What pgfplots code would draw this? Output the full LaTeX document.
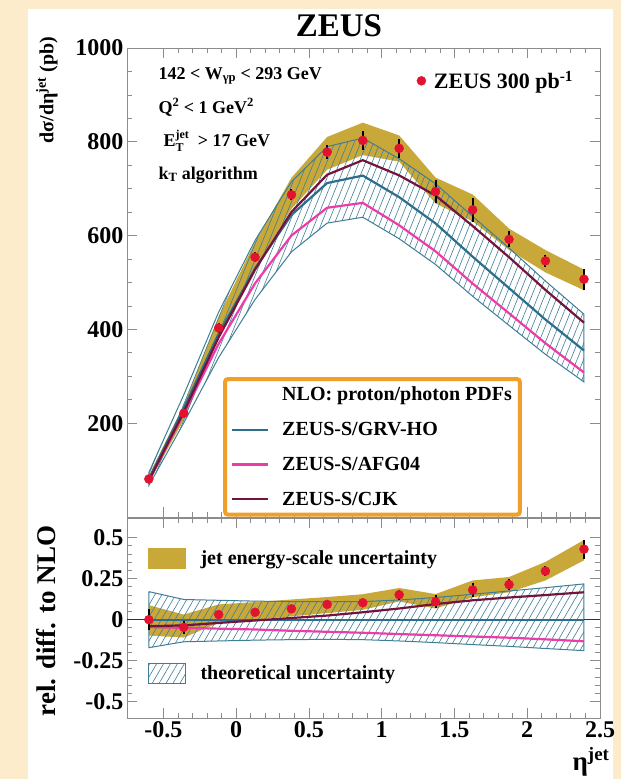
\documentclass[border=0pt]{standalone}
\usepackage{fontspec}
\setmainfont{Liberation Serif}
\usepackage{pgfplots}
\pgfplotsset{compat=1.18}
\usetikzlibrary{patterns.meta}
\definecolor{bgc}{RGB}{252,236,204}
\definecolor{goldC}{RGB}{201,168,58}
\definecolor{hatchC}{RGB}{62,126,150}
\definecolor{grvC}{RGB}{45,110,140}
\definecolor{afgC}{RGB}{236,60,170}
\definecolor{cjkC}{RGB}{115,20,60}
\definecolor{zred}{RGB}{226,18,48}
\definecolor{legC}{RGB}{240,160,40}
\definecolor{frameC}{RGB}{140,140,140}
\newcommand{\fs}[1]{\fontsize{#1}{#1}\selectfont\bfseries}
\begin{document}
\begin{tikzpicture}
\path[use as bounding box] (0pt,0pt) rectangle (621pt,-779pt);
\fill[bgc] (0pt,0pt) rectangle (621pt,-779pt);
\fill[white] (28pt,-9pt) rectangle (613pt,-779pt);
\node[font=\fs{33}] at (339pt,-26pt) {ZEUS};

% ---------------- upper panel ----------------
\begin{axis}[
  at={(127pt,-48pt)}, anchor=north west,
  scale only axis, width=473pt, height=469pt,
  xmin=-0.75, xmax=2.5, ymin=0, ymax=1000,
  xtick={-0.5,0,0.5,1,1.5,2,2.5}, xticklabels={},
  ytick={200,400,600,800,1000}, yticklabels={200,400,600,800,1000},
  minor x tick num=4, minor y tick num=3,
  axis line style={draw=frameC, line width=0.9pt},
  every tick/.style={frameC, line width=0.8pt},
  major tick length=10pt, minor tick length=5pt,
  yticklabel style={font=\fs{24}},
  legend image code/.code={\draw[#1] (0pt,0pt) -- (36pt,0pt);},
  legend cell align=left,
  legend style={at={(rel axis cs:0.203,0.2985)}, anchor=north west,
    draw=legC, line width=4pt, rounded corners=3pt, fill=white,
    font=\fs{20}, inner xsep=6pt, inner ysep=6pt, row sep=16pt,
    /tikz/every odd column/.append style={column sep=11pt}},
]
% jet energy-scale uncertainty band
\addplot[fill=goldC, draw=none, forget plot] coordinates {
(-0.6,88.1) (-0.36,239.2) (-0.12,427.4) (0.13,586.7) (0.38,723.2) (0.625,810.3) (0.87,840.8)
(1.12,813.6) (1.37,723.7) (1.625,687.6) (1.875,614.9) (2.125,569.2) (2.39,527.5)
(2.39,483.5) (2.125,521.6) (1.875,569.5) (1.625,630.5) (1.37,668.6) (1.12,757.7) (0.87,771.7)
(0.625,740.5) (0.38,656.9) (0.13,530) (-0.12,383.2) (-0.36,206.7) (-0.6,73.1) (-0.6,88.1)};
% theoretical uncertainty band
\addplot[pattern={Lines[angle=68,distance=6pt,line width=0.6pt]}, pattern color=hatchC,
  draw=hatchC, line width=1pt, forget plot] coordinates {
(-0.6,94.9) (-0.36,260.5) (-0.12,437.1) (0.13,589.9) (0.38,714.8) (0.625,789.6) (0.87,808.1)
(1.12,763.8) (1.37,710.5) (1.625,641.0) (1.875,573.4) (2.125,503.1) (2.39,432.4)
(2.39,287.9) (2.125,346.9) (1.875,408.5) (1.625,470.6) (1.37,538.4) (1.12,593.3) (0.87,639.2)
(0.625,626.6) (0.38,565.4) (0.13,463.8) (-0.12,340.2) (-0.36,200.7) (-0.6,67.1) (-0.6,94.9)};
\addlegendimage{empty legend}
\addlegendentry{NLO: proton/photon PDFs}
\addplot[grvC, line width=2.2pt] coordinates {
(-0.6,81) (-0.36,232) (-0.12,391) (0.13,530) (0.38,644) (0.625,712) (0.87,728)
(1.12,682) (1.37,626) (1.625,555) (1.875,488) (2.125,421) (2.39,355)};
\addlegendentry{ZEUS-S/GRV-HO}
\addplot[afgC, line width=2.2pt] coordinates {
(-0.6,77.4) (-0.36,220.4) (-0.12,369.5) (0.13,498.2) (0.38,600.2) (0.625,659.3) (0.87,669.8)
(1.12,622.0) (1.37,566.5) (1.625,497.8) (1.875,434.3) (2.125,370.5) (2.39,308.1)};
\addlegendentry{ZEUS-S/AFG04}
\addplot[cjkC, line width=2.2pt] coordinates {
(-0.6,77.8) (-0.36,223.9) (-0.12,383.2) (0.13,527.4) (0.38,650.4) (0.625,729.8) (0.87,760.8)
(1.12,728.4) (1.37,685.5) (1.625,620.5) (1.875,553.9) (2.125,484.2) (2.39,414.3)};
\addlegendentry{ZEUS-S/CJK}
% data
\addplot[only marks, mark=*, mark size=4.5pt, color=zred, forget plot,
  error bars/.cd, y dir=both, y explicit,
  error bar style={black, line width=2pt}, error mark=none]
  table[x=x, y=y, y error=e] {
x y e
-0.6 81 6
-0.36 221 8
-0.12 403 10
0.13 554 10
0.38 687 12
0.625 778 15
0.87 803 20
1.12 786 20
1.37 694 25
1.625 655 25
1.875 592 17
2.125 546 13
2.39 507 22
};
\end{axis}

% legend for data (overlay)
\begin{axis}[
  at={(127pt,-48pt)}, anchor=north west,
  scale only axis, width=473pt, height=469pt,
  xmin=0, xmax=1, ymin=0, ymax=1, hide axis,
  legend style={at={(rel axis cs:0.6125,0.93)}, anchor=west, draw=none, fill=none,
    font=\fs{22}, inner sep=0pt,
    /tikz/every odd column/.append style={column sep=6pt}},
]
\addlegendimage{only marks, mark=*, mark size=4.5pt, color=zred}
\addlegendentry{ZEUS 300 pb\textsuperscript{-1}}
\end{axis}

% ---------------- lower panel ----------------
\begin{axis}[
  at={(127pt,-518pt)}, anchor=north west,
  scale only axis, width=473pt, height=200pt,
  xmin=-0.75, xmax=2.5, ymin=-0.6, ymax=0.62,
  xtick={-0.5,0,0.5,1,1.5,2,2.5}, xticklabels={-0.5,0,0.5,1,1.5,2,2.5},
  ytick={-0.5,-0.25,0,0.25,0.5}, yticklabels={-0.5,-0.25,0,0.25,0.5},
  minor x tick num=4, minor y tick num=4,
  axis line style={draw=frameC, line width=0.9pt},
  every tick/.style={frameC, line width=0.8pt},
  major tick length=10pt, minor tick length=5pt,
  ticklabel style={font=\fs{24}},
  legend cell align=left,
  legend style={at={(axis cs:-0.61,0.44)}, anchor=north west, draw=none, fill=none,
    font=\fs{20}, inner sep=0pt, row sep=95pt,
    /tikz/every odd column/.append style={column sep=13pt}},
]
\addplot[fill=goldC, draw=none, forget plot] coordinates {
(-0.6,0.088) (-0.36,0.031) (-0.12,0.093) (0.13,0.107) (0.38,0.123) (0.625,0.138) (0.87,0.155)
(1.12,0.193) (1.37,0.156) (1.625,0.239) (1.875,0.26) (2.125,0.352) (2.39,0.486)
(2.39,0.362) (2.125,0.239) (1.875,0.167) (1.625,0.136) (1.37,0.068) (1.12,0.111) (0.87,0.06)
(0.625,0.04) (0.38,0.02) (0.13,0.0) (-0.12,-0.02) (-0.36,-0.109) (-0.6,-0.097) (-0.6,0.088)};
\addplot[pattern={Lines[angle=60,distance=6pt,line width=0.6pt]}, pattern color=hatchC,
  draw=hatchC, line width=1pt, forget plot] coordinates {
(-0.6,0.171) (-0.36,0.123) (-0.12,0.118) (0.13,0.113) (0.38,0.11) (0.625,0.109) (0.87,0.11)
(1.12,0.12) (1.37,0.135) (1.625,0.155) (1.875,0.175) (2.125,0.195) (2.39,0.218)
(2.39,-0.189) (2.125,-0.176) (1.875,-0.163) (1.625,-0.152) (1.37,-0.14) (1.12,-0.13) (0.87,-0.122)
(0.625,-0.12) (0.38,-0.122) (0.13,-0.125) (-0.12,-0.13) (-0.36,-0.135) (-0.6,-0.171) (-0.6,0.171)};
\addplot[black!80, line width=1pt, forget plot] coordinates {(-0.75,0) (2.5,0)};
\addplot[grvC, line width=2.2pt, forget plot] coordinates {(-0.6,0) (2.39,0)};
\addplot[afgC, line width=2.2pt, forget plot] coordinates {
(-0.6,-0.045) (-0.36,-0.05) (-0.12,-0.055) (0.13,-0.06) (0.38,-0.068) (0.625,-0.074) (0.87,-0.08)
(1.12,-0.088) (1.37,-0.095) (1.625,-0.103) (1.875,-0.11) (2.125,-0.12) (2.39,-0.132)};
\addplot[cjkC, line width=2.2pt, forget plot] coordinates {
(-0.6,-0.04) (-0.36,-0.035) (-0.12,-0.02) (0.13,-0.005) (0.38,0.01) (0.625,0.025) (0.87,0.045)
(1.12,0.068) (1.37,0.095) (1.625,0.118) (1.875,0.135) (2.125,0.15) (2.39,0.167)};
\addplot[only marks, mark=*, mark size=4.5pt, color=zred, forget plot,
  error bars/.cd, y dir=both, y explicit,
  error bar style={black, line width=2pt}, error mark=none]
  table[x=x, y=y, y error=e] {
x y e
-0.6 0 0.062
-0.36 -0.047 0.04
-0.12 0.031 0.016
0.13 0.045 0.016
0.38 0.066 0.016
0.625 0.093 0.018
0.87 0.103 0.02
1.12 0.152 0.03
1.37 0.109 0.04
1.625 0.181 0.045
1.875 0.214 0.036
2.125 0.296 0.03
2.39 0.43 0.058
};
\addlegendimage{legend image code/.code={\fill[goldC] (0pt,-10pt) rectangle (37pt,10pt);}}
\addlegendentry{jet energy-scale uncertainty}
\addlegendimage{legend image code/.code={\draw[hatchC, line width=1pt,
  pattern={Lines[angle=60,distance=6pt,line width=0.6pt]}, pattern color=hatchC]
  (0pt,-10pt) rectangle (37pt,10pt);}}
\addlegendentry{theoretical uncertainty}
\end{axis}

% annotations
\node[anchor=base west, font=\fs{18}] at (155pt,-79pt) {142 < W\textsubscript{γp} < 293 GeV};
\node[anchor=base west, font=\fs{18}] at (155pt,-113pt) {Q\textsuperscript{2} < 1 GeV\textsuperscript{2}};
\node[anchor=base west, font=\fs{18}] at (160pt,-146pt) {E\raisebox{0.1ex}{\fontsize{12}{13}\selectfont\begin{tabular}{@{}l@{}}jet\\T\end{tabular}}\ \ > 17 GeV};
\node[anchor=base west, font=\fs{18}] at (155pt,-179pt) {k\textsubscript{T} algorithm};
% axis titles
\node[rotate=90, anchor=east, font=\fs{20}] at (47pt,-33pt) {dσ/dη\textsuperscript{jet} (pb)};
\node[rotate=90, anchor=east, font=\fs{27}] at (46pt,-522pt) {rel. diff. to NLO};
\node[anchor=base east, font=\fs{27}] at (613pt,-770pt) {η\textsuperscript{jet}};
\end{tikzpicture}
\end{document}
